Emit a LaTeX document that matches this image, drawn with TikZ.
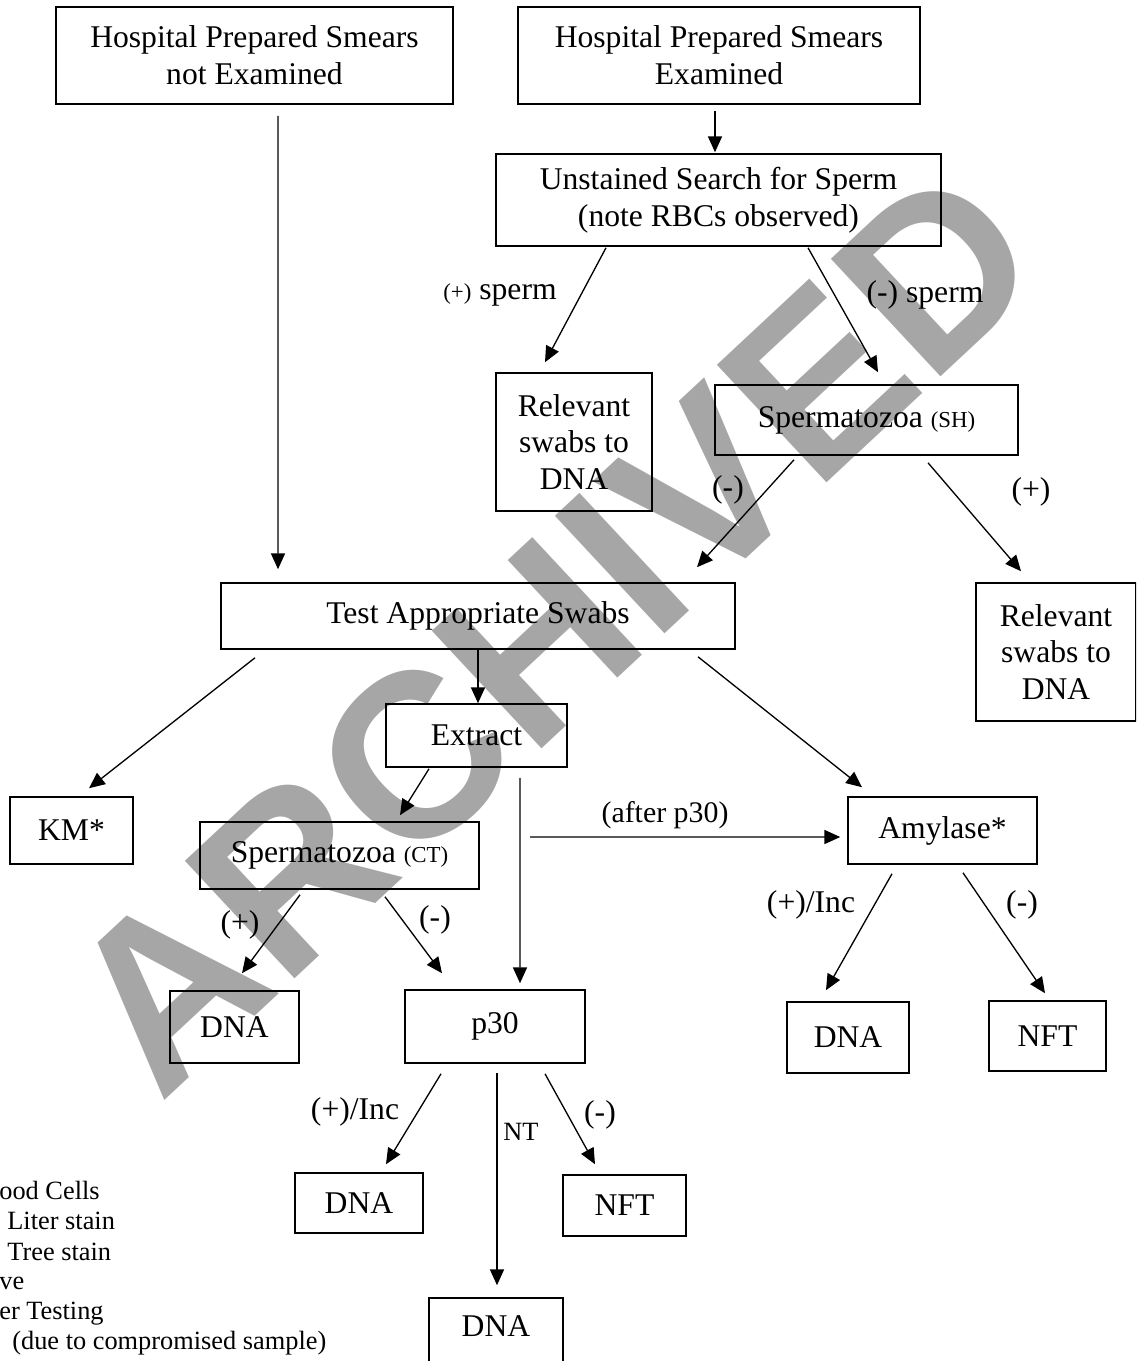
\documentclass[tikz,border=0pt]{standalone}
\usepackage{fontspec}
\setmainfont{Liberation Serif}
\newfontfamily\markfont{Liberation Sans}
\usetikzlibrary{arrows.meta,calc}
\definecolor{wmgray}{RGB}{166,166,166}
\newcommand\bigfnt{\fontsize{18}{21}\selectfont}
\newcommand\smallfnt{\fontsize{13}{15}\selectfont}
\newcommand\legfnt{\fontsize{15}{17}\selectfont}
\begin{document}
\begin{tikzpicture}[x=0.02cm,y=-0.02cm,
  box/.style={draw,line width=0.9pt,inner sep=0pt,align=center,font=\bigfnt},
  lbl/.style={inner sep=0pt,font=\bigfnt},
  arr/.style={line width=0.75pt,-{Triangle[length=9pt,width=8pt]}}]
\useasboundingbox (0,0) rectangle (1136,1361);
\clip (0,0) rectangle (1136,1361);
% watermark
\node[rotate=43,anchor=base west,inner sep=0pt,text=wmgray,font=\markfont\bfseries\fontsize{133}{133}\selectfont] (wm) at (160,1105) {ARCHIVED};
% boxes
\node[box,minimum width=7.94cm,minimum height=1.94cm] (hpsn) at (254.5,55.5) {Hospital Prepared Smears\\not Examined};
\node[box,minimum width=8.04cm,minimum height=1.94cm] (hpse) at (719,55.5) {Hospital Prepared Smears\\Examined};
\node[box,minimum width=8.90cm,minimum height=1.84cm] (search) at (718.5,200) {Unstained Search for Sperm\\(note RBCs observed)};
\node[box,minimum width=3.12cm,minimum height=2.76cm] (relA) at (574,442) {Relevant\\swabs to\\DNA};
\node[box,minimum width=6.06cm,minimum height=1.40cm] (sh) at (866.5,420) {Spermatozoa {\smallfnt(SH)}};
\node[box,minimum width=10.28cm,minimum height=1.32cm] (test) at (478,616) {Test Appropriate Swabs};
\node[box,minimum width=3.20cm,minimum height=2.76cm] (relB) at (1056,652) {Relevant\\swabs to\\DNA};
\node[box,minimum width=3.62cm,minimum height=1.26cm] (extract) at (476.5,735.5) {Extract};
\node[box,minimum width=2.46cm,minimum height=1.34cm] (km) at (71.5,830.5) {KM*};
\node[box,minimum width=5.58cm,minimum height=1.34cm] (ct) at (339.5,855.5) {Spermatozoa {\smallfnt(CT)}};
\node[box,minimum width=3.78cm,minimum height=1.34cm] (amy) at (942.5,830.5) {Amylase*};
\node[box,minimum width=2.58cm,minimum height=1.44cm] (dnaA) at (234.5,1027) {DNA};
\node[box,minimum width=3.60cm,minimum height=1.46cm] (p30) at (495,1026.5) {p30};
\node[box,minimum width=2.44cm,minimum height=1.42cm] (dnaB) at (848,1037.5) {DNA};
\node[box,minimum width=2.34cm,minimum height=1.40cm] (nftA) at (1047.5,1036) {NFT};
\node[box,minimum width=2.56cm,minimum height=1.20cm] (dnaC) at (359,1203) {DNA};
\node[box,minimum width=2.46cm,minimum height=1.22cm] (nftB) at (624.5,1205.5) {NFT};
\node[box,minimum width=2.68cm,minimum height=1.44cm,text depth=9pt] (dnaD) at (496,1334) {DNA};
\coordinate (fork) at (530,837);
% connectors
\draw[arr] ($(hpsn.south)+(23.5,11)$) -- ($(test.north)+(-200,-13)$);
\draw[arr] ($(hpse.south)+(-4,6)$) -- ($(search.north)+(-3.5,-1)$);
\draw[arr] ($(search.south)+(-112.5,1)$) -- ($(relA.north)+(-29,-10)$);
\draw[arr] ($(search.south)+(89.5,1)$) -- ($(sh.north)+(11.5,-12)$);
\draw[arr] ($(sh.south)+(-72.5,4)$) -- ($(test.north)+(219,-15)$);
\draw[arr] ($(sh.south)+(61.5,7)$) -- ($(relB.north)+(-35,-11)$);
\draw[arr] (test.south) -- (test.south |- extract.north);
\draw[arr] ($(test.south)+(-223,8)$) -- ($(km.north)+(17.5,-8)$);
\draw[arr] ($(test.south)+(220,7)$) -- ($(amy.north)+(-80.5,-9)$);
\draw[arr] ($(extract.south)+(-47.5,1)$) -- ($(ct.north)+(60.5,-6)$);
\draw[arr] ($(extract.south)+(43.5,10)$) -- ($(p30.north)+(25,-6)$);
\draw[arr] (fork) -- ($(amy.west)+(-7,6.5)$);
\draw[arr] ($(ct.south)+(-39.5,5)$) -- ($(dnaA.north)+(7.5,-17)$);
\draw[arr] ($(ct.south)+(45.5,7)$) -- ($(p30.north)+(-53,-16)$);
\draw[arr] ($(amy.south)+(-50.5,9)$) -- ($(dnaB.north)+(-22,-11)$);
\draw[arr] ($(amy.south)+(20.5,8)$) -- ($(nftA.north)+(-2.5,-7)$);
\draw[arr] ($(p30.south)+(-54,10)$) -- ($(dnaC.north)+(27,-8)$);
\draw[arr] ($(p30.south)+(2,9)$) -- ($(dnaD.north)+(1,-12)$);
\draw[arr] ($(p30.south)+(50,10)$) -- ($(nftB.north)+(-29.5,-10)$);
% labels
\node[lbl] (lplus) at (500,295) {{\smallfnt(+)} sperm};
\node[lbl] (lminus) at (925,295) {(-) sperm};
\node[lbl] (lshm) at (728,490) {(-)};
\node[lbl] (lshp) at (1031,492) {(+)};
\node[lbl,font=\fontsize{17}{20}\selectfont] (lafter) at (665,815) {(after p30)};
\node[lbl] (lctp) at (240,925) {(+)};
\node[lbl] (lctm) at (435,920) {(-)};
\node[lbl] (lamyp) at (811,905) {(+)/Inc};
\node[lbl] (lamym) at (1022,905) {(-)};
\node[lbl] (lp30p) at (355,1112) {(+)/Inc};
\node[lbl,font=\legfnt] (lnt) at (521,1132) {NT};
\node[lbl] (lp30m) at (600,1115) {(-)};
% legend (cut off at the left edge)
\node[lbl,font=\legfnt,anchor=base west] (lg1) at (-1,1199) {ood Cells};
\node[lbl,font=\legfnt,anchor=base west] (lg2) at (7,1229) {Liter stain};
\node[lbl,font=\legfnt,anchor=base west] (lg3) at (7,1260) {Tree stain};
\node[lbl,font=\legfnt,anchor=base west] (lg4) at (-1,1289) {ve};
\node[lbl,font=\legfnt,anchor=base west] (lg5) at (-1,1319) {er Testing};
\node[lbl,font=\legfnt,anchor=base west] (lg6) at (12,1349) {(due to compromised sample)};
\end{tikzpicture}
\end{document}
